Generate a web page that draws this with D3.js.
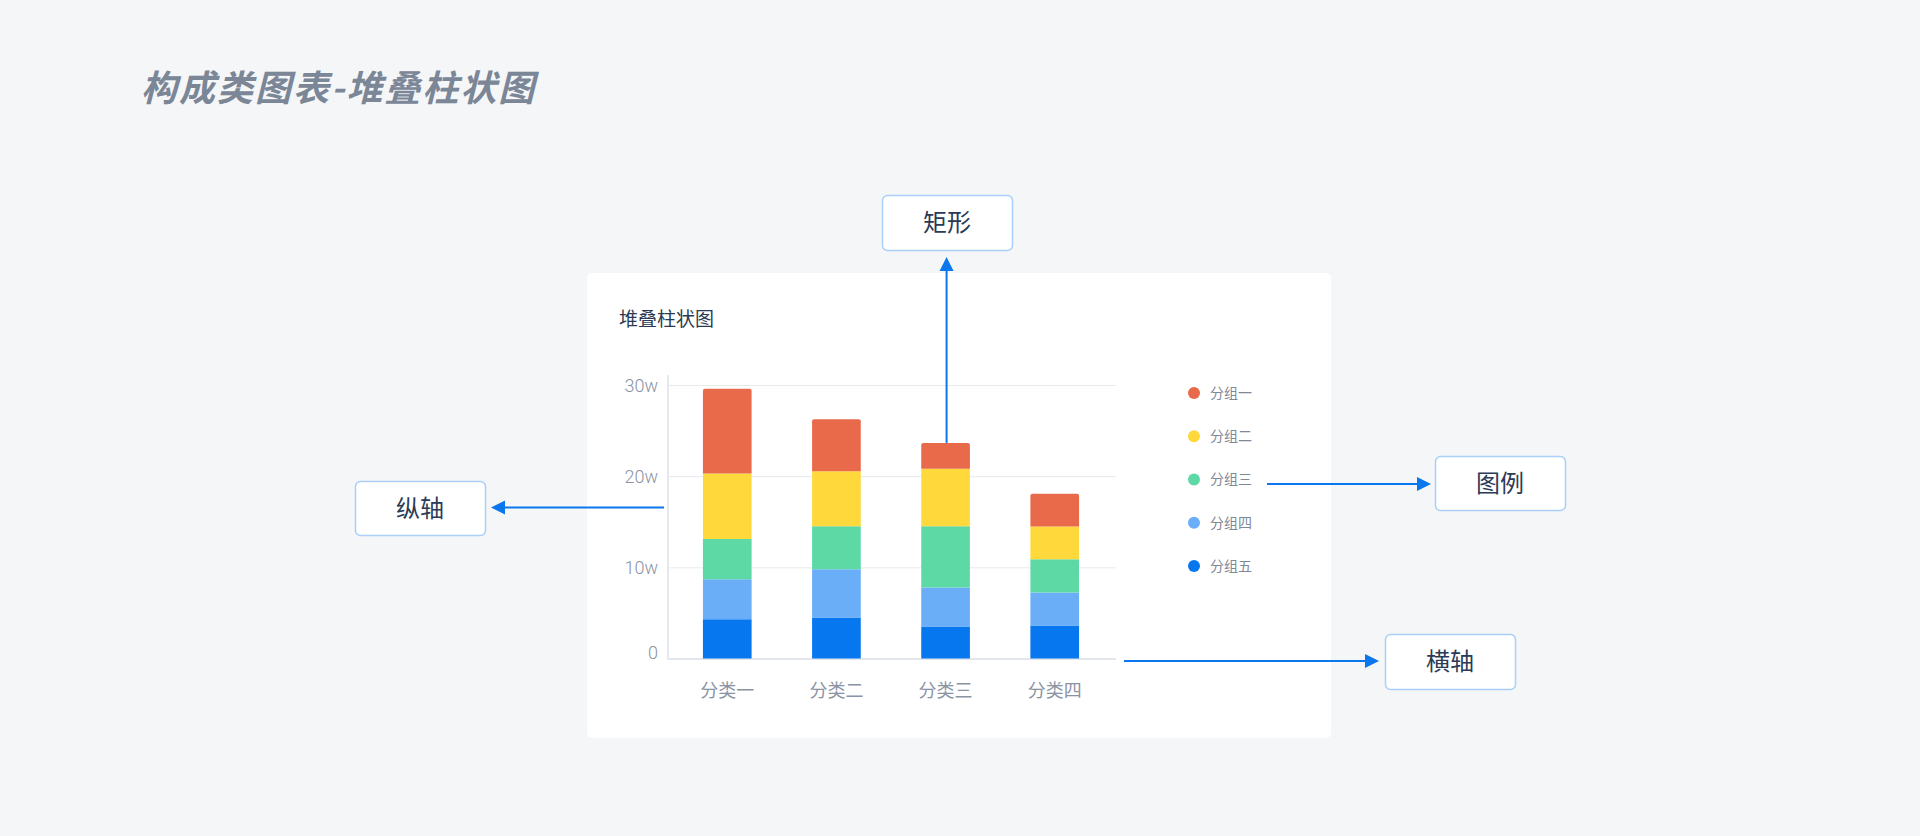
<!DOCTYPE html>
<html>
<head>
<meta charset="utf-8">
<script src="https://cdn.jsdelivr.net/npm/d3@7"></script>
<style>
  html, body { margin: 0; padding: 0; background: #f5f6f8; }
  svg { display: block; }
</style>
</head>
<body>
<svg id="chart" width="1920" height="836"></svg>
<script>
// ---- data ----
const categories = ["分类一", "分类二", "分类三", "分类四"];
const groups = ["分组一", "分组二", "分组三", "分组四", "分组五"];
// values in w (10k), stacked from 分组五 (bottom) to 分组一 (top)
const group1 = [9.3, 5.7, 2.85, 3.6];
const group2 = [7.2, 6.05, 6.3, 3.6];
const group3 = [4.4, 4.7, 6.7, 3.65];
const group4 = [4.4, 5.3, 4.3, 3.6];
const group5 = [4.3, 4.5, 3.5, 3.63];
const yTicks = [0, 10, 20, 30];
const yTickLabels = ["0", "10w", "20w", "30w"];
const colors = ["#e86a4b", "#ffd93b", "#5dd9a6", "#6aaef7", "#0677ee"];

const seriesValues = [group1, group2, group3, group4, group5];
const table = categories.map((c, i) => {
  const row = { cat: c };
  groups.forEach((g, j) => row[g] = seriesValues[j][i]);
  return row;
});

const svg = d3.select("#chart");

// page title
svg.append("text")
  .attr("x", 141).attr("y", 101)
  .attr("font-family", "'Noto Sans CJK SC', sans-serif")
  .attr("font-size", 36).attr("font-weight", 700).attr("font-style", "italic")
  .attr("letter-spacing", 2)
  .attr("fill", "#7b8697")
  .text("构成类图表-堆叠柱状图");

// card
svg.append("rect")
  .attr("x", 587).attr("y", 273).attr("width", 744).attr("height", 465)
  .attr("rx", 5).attr("fill", "#ffffff");

svg.append("text")
  .attr("x", 619).attr("y", 326)
  .attr("font-family", "'Noto Sans CJK SC', sans-serif")
  .attr("font-size", 19).attr("font-weight", 400)
  .attr("fill", "#2a3a54")
  .text("堆叠柱状图");

// scales
const x = d3.scaleBand().domain(categories).range([668, 1114])
  .paddingInner(0.554).paddingOuter(0.32);
const y = d3.scaleLinear().domain([0, 30]).range([658.5, 385]);

// gridlines
const grid = svg.append("g");
grid.selectAll("line").data(yTicks).join("line")
  .attr("x1", 668).attr("x2", 1116)
  .attr("y1", d => y(d) + 0.5).attr("y2", d => y(d) + 0.5)
  .attr("stroke", d => d === 0 ? "#e3e6ec" : "#e6e9ee")
  .attr("stroke-width", d => d === 0 ? 2 : 1);

// y axis line
svg.append("line")
  .attr("x1", 668).attr("x2", 668).attr("y1", 375).attr("y2", 660)
  .attr("stroke", "#e5e8ed").attr("stroke-width", 2);

// y axis labels via d3 axis
const yAxis = d3.axisLeft(y).tickValues(yTicks)
  .tickFormat((d, i) => yTickLabels[i]).tickSize(0).tickPadding(0);
const yg = svg.append("g").attr("transform", "translate(658,0)").call(yAxis);
yg.select(".domain").remove();
yg.selectAll("text")
  .attr("font-family", "Roboto, sans-serif").attr("font-weight", 300)
  .attr("font-size", 18).attr("fill", "#8a93a3")
  .attr("dy", (d) => d === 0 ? "0.0em" : "0.34em");

// x axis labels via d3 axis
const xAxis = d3.axisBottom(x).tickSize(0).tickPadding(0);
const xg = svg.append("g").attr("transform", "translate(0,691)").call(xAxis);
xg.select(".domain").remove();
xg.selectAll("text")
  .attr("font-family", "'Noto Sans CJK SC', sans-serif")
  .attr("font-size", 18).attr("fill", "#8a93a3")
  .attr("dy", "0.35em").attr("y", 0);

// stacked bars
const stack = d3.stack().keys(groups.slice().reverse());
const stacked = stack(table);
const bw = x.bandwidth();
function topRoundPath(x0, y0, w, h, r) {
  r = Math.min(r, h);
  return `M${x0},${y0 + h}V${y0 + r}Q${x0},${y0} ${x0 + r},${y0}H${x0 + w - r}Q${x0 + w},${y0} ${x0 + w},${y0 + r}V${y0 + h}Z`;
}
stacked.forEach(layer => {
  const gi = groups.indexOf(layer.key);
  const isTop = gi === 0;
  svg.append("g").selectAll("path").data(layer).join("path")
    .attr("d", d => {
      const x0 = x(d.data.cat), y0 = y(d[1]), h = y(d[0]) - y(d[1]);
      return isTop ? topRoundPath(x0, y0, bw, h, 2) : `M${x0},${y0}h${bw}v${h}h${-bw}Z`;
    })
    .attr("fill", colors[gi]);
});

// legend
const legend = svg.append("g");
const ly = d3.scalePoint().domain(groups).range([393, 566]);
legend.selectAll("circle").data(groups).join("circle")
  .attr("cx", 1194).attr("cy", d => ly(d)).attr("r", 6)
  .attr("fill", (d, i) => colors[i]);
legend.selectAll("text").data(groups).join("text")
  .attr("x", 1210).attr("y", d => ly(d)).attr("dy", "0.35em")
  .attr("font-family", "'Noto Sans CJK SC', sans-serif")
  .attr("font-size", 14).attr("fill", "#7f8898")
  .text(d => d);

// annotations
const blue = "#0a77ee";
function callout(bx, by, bwid, bh, label) {
  svg.append("rect").attr("x", bx + 0.5).attr("y", by + 0.5)
    .attr("width", bwid).attr("height", bh).attr("rx", 5)
    .attr("fill", "#ffffff").attr("stroke", "#a8d0f8").attr("stroke-width", 1.5);
  svg.append("text").attr("x", bx + bwid / 2).attr("y", by + bh / 2)
    .attr("text-anchor", "middle").attr("dy", "0.36em")
    .attr("font-family", "'Noto Sans CJK SC', sans-serif")
    .attr("font-size", 24).attr("fill", "#2b3a56")
    .text(label);
}
function arrow(x1, y1, x2, y2) {
  const ang = Math.atan2(y2 - y1, x2 - x1);
  const len = 14, hw = 7;
  const bxp = x2 - len * Math.cos(ang), byp = y2 - len * Math.sin(ang);
  svg.append("line").attr("x1", x1).attr("y1", y1).attr("x2", bxp).attr("y2", byp)
    .attr("stroke", blue).attr("stroke-width", 2);
  const px = -Math.sin(ang) * hw, py = Math.cos(ang) * hw;
  svg.append("path")
    .attr("d", `M${x2},${y2}L${bxp + px},${byp + py}L${bxp - px},${byp - py}Z`)
    .attr("fill", blue);
}

callout(882, 195, 130, 55, "矩形");
callout(355, 481, 130, 54, "纵轴");
callout(1435, 456, 130, 54, "图例");
callout(1385, 634, 130, 55, "横轴");

const c3x = x("分类三") + bw / 2 + 1;
const c3top = y(d3.sum(seriesValues, s => s[2]));
arrow(c3x, c3top, c3x, 257);
arrow(664, 507.5, 491, 507.5);
arrow(1267, 484, 1431, 484);
arrow(1124, 661, 1379, 661);
</script>
</body>
</html>
